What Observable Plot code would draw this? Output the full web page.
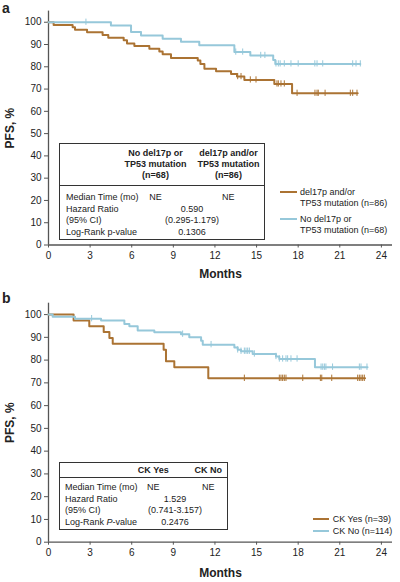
<!DOCTYPE html>
<html>
<head>
<meta charset="utf-8">
<script src="https://cdn.jsdelivr.net/npm/d3@7"></script>
<script src="https://cdn.jsdelivr.net/npm/@observablehq/plot@0.6"></script>
<style>
  html, body { margin: 0; padding: 0; background: #fff; }
  body { font-family: "Liberation Sans", Arial, sans-serif; color: #222; }
  #wrap { position: relative; width: 400px; height: 582px; overflow: hidden; background: #fff; }
  .panel { position: absolute; left: 0; width: 400px; }
  .panel svg { display: block; }
  .t { position: absolute; white-space: nowrap; font-size: 9px; line-height: 1; color: #222; }
  .b { font-weight: bold; }
  .box { position: absolute; border: 1.2px solid #333; box-sizing: border-box; }
  .sep { position: absolute; height: 0; border-top: 1.2px solid #333; }
  .leg { position: absolute; height: 0; border-top: 2.4px solid; }
  .plab { position: absolute; font-weight: bold; font-size: 14px; line-height: 1.1; }
  g[aria-label="x-axis label"] text, g[aria-label="y-axis label"] text { font-weight: bold; font-size: 12px; }
</style>
</head>
<body>
<div id="wrap"></div>
<script>
// ---------- shared ticks / colours ----------
const monthTicks = [0, 3, 6, 9, 12, 15, 18, 21, 24];
const pfsTicks = [0, 10, 20, 30, 40, 50, 60, 70, 80, 90, 100];
const seriesColors = ["#ab7333", "#96c8da"];

// ---------- panel a data ----------
const aDelTimes = [0, 0.37, 1.74, 1.91, 2.78, 3.9, 4.31, 5.42, 5.66, 6.19, 7.27, 7.99, 8.23, 8.83, 10.76, 10.95, 11.24, 12.08, 13.16, 13.59, 14.12, 16.28, 17.56];
const aDelSurv  = [100, 98.8, 97.7, 96.6, 95.5, 94.3, 93.0, 91.9, 90.5, 89.3, 88.1, 86.9, 85.6, 84.0, 82.8, 81.3, 79.1, 78.0, 76.8, 75.6, 74.1, 72.3, 68.1];
const aDelEnd = 22.29;
const aDelCensor = [13.64, 13.88, 14.55, 14.96, 16.47, 16.57, 16.76, 17.0, 17.92, 19.21, 19.36, 19.45, 19.94, 21.76, 21.93, 22.24];

const aNoTimes = [0, 4.5, 5.95, 6.67, 8.23, 9.55, 10.87, 13.4, 14.55, 16.2, 16.35];
const aNoSurv  = [100, 98.5, 95.6, 94.1, 92.6, 91.2, 89.7, 86.6, 85.1, 83.0, 81.3];
const aNoEnd = 22.48;
const aNoCensor = [2.7, 13.5, 14.0, 15.3, 15.6, 16.4, 16.57, 16.7, 17.0, 17.48, 18.0, 19.2, 19.36, 19.77, 21.93, 22.17, 22.48];

const aColHead1 = ["No del17p or", "TP53 mutation", "(n=68)"];
const aColHead2 = ["del17p and/or", "TP53 mutation", "(n=86)"];
const aMedian = ["NE", "NE"];
const aHR = "0.590";
const aCI = "(0.295-1.179)";
const aPval = "0.1306";
const aRowLabels = ["Median Time (mo)", "Hazard Ratio", "(95% CI)", "Log-Rank p-value"];
const aLegend = [["del17p and/or", "TP53 mutation (n=86)"], ["No del17p or", "TP53 mutation (n=68)"]];

// ---------- panel b data ----------
const bYesTimes = [0, 1.81, 2.94, 3.98, 4.39, 4.63, 8.3, 8.47, 9.07, 11.52];
const bYesSurv  = [100, 97.4, 94.9, 92.3, 89.7, 87.2, 84.6, 79.5, 76.9, 72.0];
const bYesEnd = 22.82;
const bYesCensor = [14.12, 16.64, 16.76, 16.88, 17.0, 17.12, 18.33, 19.6, 19.7, 20.42, 22.29, 22.41, 22.53, 22.65, 22.77];

const bNoTimes = [0, 0.3, 1.91, 3.79, 5.47, 5.83, 6.43, 7.63, 9.55, 10.15, 11.0, 11.12, 13.4, 13.64, 13.88, 14.72, 16.4, 16.64, 19.21];
const bNoSurv  = [100, 99.1, 98.2, 97.4, 95.9, 94.9, 93.0, 92.2, 91.4, 90.0, 88.5, 86.8, 85.5, 84.5, 83.9, 82.7, 81.6, 80.5, 76.9];
const bNoEnd = 23.0;
const bNoCensor = [3.11, 9.67, 11.72, 13.64, 13.88, 14.12, 14.24, 14.36, 14.48, 14.84, 16.4, 16.64, 16.88, 17.12, 17.24, 17.48, 17.92, 19.65, 19.77, 19.89, 20.0, 20.48, 22.41, 22.53, 22.96];

const bColHead = ["CK Yes", "CK No"];
const bMedian = ["NE", "NE"];
const bHR = "1.529";
const bCI = "(0.741-3.157)";
const bPval = "0.2476";
const bRowLabels = ["Median Time (mo)", "Hazard Ratio", "(95% CI)", "Log-Rank <i>P</i>-value"];
const bLegend = ["CK Yes (n=39)", "CK No (n=114)"];

// ---------- helpers ----------
function levelAt(times, surv, t) {
  let v = surv[0];
  for (let i = 0; i < times.length; i++) if (times[i] <= t) v = surv[i];
  return v;
}
function makeSeries(key, times, surv, end, censor) {
  const line = times.map((t, i) => ({k: key, t, s: surv[i]}));
  line.push({k: key, t: end, s: surv[surv.length - 1]});
  const cens = censor.map(t => ({k: key, t, s: levelAt(times, surv, t)}));
  return {line, cens};
}

function panel(opts) {
  const {series, keys, height, mt, mb, xLabelOffset} = opts;
  const lineData = series.flatMap(s => s.line);
  const censData = series.flatMap(s => s.cens);
  return Plot.plot({
    width: 400, height,
    marginLeft: 48, marginRight: 8, marginTop: mt, marginBottom: mb,
    x: {domain: [0, 24.8]},
    y: {domain: [0, 105]},
    color: {domain: keys, range: seriesColors},
    style: {fontFamily: '"Liberation Sans", Arial, sans-serif', fontSize: "10px", color: "#222", background: "#fff", overflow: "visible"},
    marks: [
      Plot.axisX({ticks: monthTicks, tickSize: 3, tickPadding: 4, stroke: "#555",
        label: "Months", labelAnchor: "center", labelArrow: "none", labelOffset: xLabelOffset}),
      Plot.axisY({ticks: pfsTicks, tickSize: 4, tickPadding: 3, stroke: "#555",
        label: "PFS, %", labelAnchor: "center", labelArrow: "none", labelOffset: 43}),
      Plot.ruleX([0], {stroke: "#555", strokeWidth: 1.3}),
      Plot.ruleY([0], {stroke: "#555", strokeWidth: 1.3}),
      Plot.line(lineData, {x: "t", y: "s", z: "k", stroke: "k", curve: "step-after", strokeWidth: 2}),
      Plot.ruleX(censData, {x: "t", y1: d => d.s - 1.4, y2: d => d.s + 1.4, stroke: "k", strokeWidth: 1})
    ]
  });
}

const wrap = document.getElementById("wrap");
function txt(html, x, y, cls, align) {
  const d = document.createElement("div");
  d.className = "t " + (cls || "");
  d.innerHTML = html;
  d.style.left = x + "px";
  d.style.top = y + "px";
  d.style.transform = align === "center" ? "translate(-50%,-50%)" : "translate(0,-50%)";
  wrap.appendChild(d);
  return d;
}
function el(cls, style) {
  const d = document.createElement("div");
  d.className = cls;
  Object.assign(d.style, style);
  wrap.appendChild(d);
  return d;
}

// ---------- panel a ----------
const aKeys = ["del", "no"];
const pa = document.createElement("div");
pa.className = "panel"; pa.style.top = "0px";
pa.appendChild(panel({
  series: [makeSeries("del", aDelTimes, aDelSurv, aDelEnd, aDelCensor),
           makeSeries("no", aNoTimes, aNoSurv, aNoEnd, aNoCensor)],
  keys: aKeys, height: 290, mt: 10.6, mb: 45.5, xLabelOffset: 32.5
}));
wrap.appendChild(pa);

// ---------- panel b ----------
const bKeys = ["yes", "no"];
const pb = document.createElement("div");
pb.className = "panel"; pb.style.top = "290px";
pb.appendChild(panel({
  series: [makeSeries("yes", bYesTimes, bYesSurv, bYesEnd, bYesCensor),
           makeSeries("no", bNoTimes, bNoSurv, bNoEnd, bNoCensor)],
  keys: bKeys, height: 292, mt: 12.7, mb: 40.3, xLabelOffset: 35
}));
wrap.appendChild(pb);

// panel letters
el("plab", {left: "2px", top: "1px"}).textContent = "a";
el("plab", {left: "2px", top: "291px"}).textContent = "b";

// ---------- table a ----------
el("box", {left: "59px", top: "143px", width: "205.5px", height: "96.5px"});
el("sep", {left: "59px", top: "185px", width: "205.5px"});
[153.3, 164.3, 175.3].forEach((y, i) => {
  txt(aColHead1[i], 155.5, y, "b", "center");
  txt(aColHead2[i], 228.5, y, "b", "center");
});
const aRowY = [196.7, 208.7, 220.2, 231.7];
aRowLabels.forEach((s, i) => txt(s, 66, aRowY[i], "", "left"));
txt(aMedian[0], 155.5, aRowY[0], "", "center");
txt(aMedian[1], 228.3, aRowY[0], "", "center");
txt(aHR, 192, aRowY[1], "", "center");
txt(aCI, 192, aRowY[2], "", "center");
txt(aPval, 192, aRowY[3], "", "center");

// legend a
el("leg", {left: "279.5px", top: "191px", width: "17.5px", borderColor: seriesColors[0]});
el("leg", {left: "279.5px", top: "218.3px", width: "17.5px", borderColor: seriesColors[1]});
txt(aLegend[0][0], 300, 192, "", "left");
txt(aLegend[0][1], 300, 203, "", "left");
txt(aLegend[1][0], 300, 219.3, "", "left");
txt(aLegend[1][1], 300, 230.3, "", "left");

// ---------- table b ----------
el("box", {left: "59px", top: "462.3px", width: "168.5px", height: "67.5px"});
el("sep", {left: "59px", top: "476.7px", width: "168.5px"});
txt(bColHead[0], 153.3, 470, "b", "center");
txt(bColHead[1], 208.3, 470, "b", "center");
const bRowY = [487.3, 499, 510.3, 521.7];
bRowLabels.forEach((s, i) => txt(s, 65, bRowY[i], "", "left"));
txt(bMedian[0], 153.3, bRowY[0], "", "center");
txt(bMedian[1], 208.3, bRowY[0], "", "center");
txt(bHR, 175, bRowY[1], "", "center");
txt(bCI, 175, bRowY[2], "", "center");
txt(bPval, 175, bRowY[3], "", "center");

// legend b
el("leg", {left: "312.7px", top: "518.3px", width: "16.5px", borderColor: seriesColors[0]});
el("leg", {left: "312.7px", top: "530px", width: "16.5px", borderColor: seriesColors[1]});
txt(bLegend[0], 332.7, 519.3, "", "left");
txt(bLegend[1], 332.7, 531, "", "left");
</script>
</body>
</html>
